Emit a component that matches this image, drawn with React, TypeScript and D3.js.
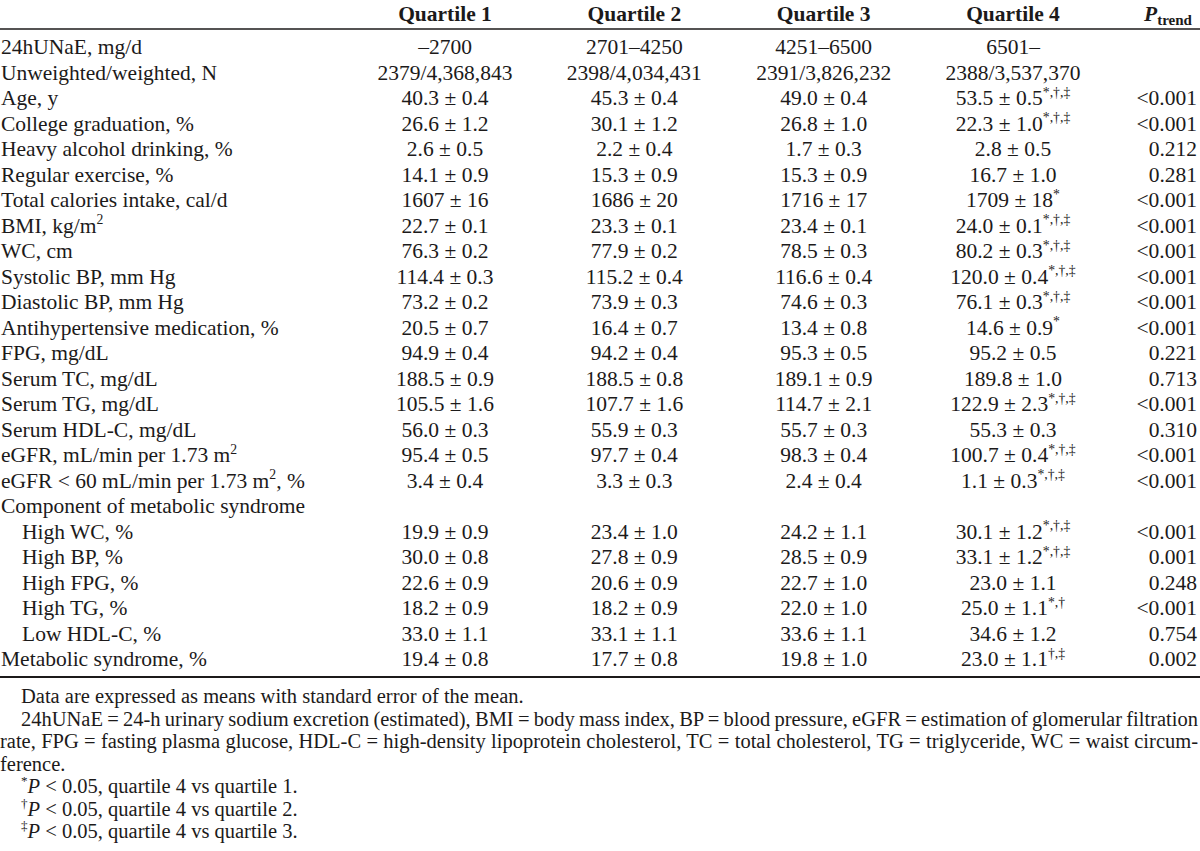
import React, { useEffect, useRef } from "react";
import * as d3 from "d3";

const W = 1200;
const H = 851;
const FONT = "'Liberation Serif', 'Times New Roman', Times, serif";
const INK = "#1c1a1a";

const quartiles = ["Quartile 1", "Quartile 2", "Quartile 3", "Quartile 4"];

const rowLabels = [
  "24hUNaE, mg/d",
  "Unweighted/weighted, N",
  "Age, y",
  "College graduation, %",
  "Heavy alcohol drinking, %",
  "Regular exercise, %",
  "Total calories intake, cal/d",
  "BMI, kg/m^{2}",
  "WC, cm",
  "Systolic BP, mm Hg",
  "Diastolic BP, mm Hg",
  "Antihypertensive medication, %",
  "FPG, mg/dL",
  "Serum TC, mg/dL",
  "Serum TG, mg/dL",
  "Serum HDL-C, mg/dL",
  "eGFR, mL/min per 1.73 m^{2}",
  "eGFR < 60 mL/min per 1.73 m^{2}, %",
  "Component of metabolic syndrome",
  "High WC, %",
  "High BP, %",
  "High FPG, %",
  "High TG, %",
  "Low HDL-C, %",
  "Metabolic syndrome, %",
];

const indented = [19, 20, 21, 22, 23];

const q1 = ["–2700", "2379/4,368,843", "40.3 ± 0.4", "26.6 ± 1.2", "2.6 ± 0.5", "14.1 ± 0.9", "1607 ± 16", "22.7 ± 0.1", "76.3 ± 0.2", "114.4 ± 0.3", "73.2 ± 0.2", "20.5 ± 0.7", "94.9 ± 0.4", "188.5 ± 0.9", "105.5 ± 1.6", "56.0 ± 0.3", "95.4 ± 0.5", "3.4 ± 0.4", "", "19.9 ± 0.9", "30.0 ± 0.8", "22.6 ± 0.9", "18.2 ± 0.9", "33.0 ± 1.1", "19.4 ± 0.8"];
const q2 = ["2701–4250", "2398/4,034,431", "45.3 ± 0.4", "30.1 ± 1.2", "2.2 ± 0.4", "15.3 ± 0.9", "1686 ± 20", "23.3 ± 0.1", "77.9 ± 0.2", "115.2 ± 0.4", "73.9 ± 0.3", "16.4 ± 0.7", "94.2 ± 0.4", "188.5 ± 0.8", "107.7 ± 1.6", "55.9 ± 0.3", "97.7 ± 0.4", "3.3 ± 0.3", "", "23.4 ± 1.0", "27.8 ± 0.9", "20.6 ± 0.9", "18.2 ± 0.9", "33.1 ± 1.1", "17.7 ± 0.8"];
const q3 = ["4251–6500", "2391/3,826,232", "49.0 ± 0.4", "26.8 ± 1.0", "1.7 ± 0.3", "15.3 ± 0.9", "1716 ± 17", "23.4 ± 0.1", "78.5 ± 0.3", "116.6 ± 0.4", "74.6 ± 0.3", "13.4 ± 0.8", "95.3 ± 0.5", "189.1 ± 0.9", "114.7 ± 2.1", "55.7 ± 0.3", "98.3 ± 0.4", "2.4 ± 0.4", "", "24.2 ± 1.1", "28.5 ± 0.9", "22.7 ± 1.0", "22.0 ± 1.0", "33.6 ± 1.1", "19.8 ± 1.0"];
const q4 = ["6501–", "2388/3,537,370", "53.5 ± 0.5", "22.3 ± 1.0", "2.8 ± 0.5", "16.7 ± 1.0", "1709 ± 18", "24.0 ± 0.1", "80.2 ± 0.3", "120.0 ± 0.4", "76.1 ± 0.3", "14.6 ± 0.9", "95.2 ± 0.5", "189.8 ± 1.0", "122.9 ± 2.3", "55.3 ± 0.3", "100.7 ± 0.4", "1.1 ± 0.3", "", "30.1 ± 1.2", "33.1 ± 1.2", "23.0 ± 1.1", "25.0 ± 1.1", "34.6 ± 1.2", "23.0 ± 1.1"];
const q4Sup = ["", "", "*,†,‡", "*,†,‡", "", "", "*", "*,†,‡", "*,†,‡", "*,†,‡", "*,†,‡", "*", "", "", "*,†,‡", "", "*,†,‡", "*,†,‡", "", "*,†,‡", "*,†,‡", "", "*,†", "", "†,‡"];
const pTrend = ["", "", "<0.001", "<0.001", "0.212", "0.281", "<0.001", "<0.001", "<0.001", "<0.001", "<0.001", "<0.001", "0.221", "0.713", "<0.001", "0.310", "<0.001", "<0.001", "", "<0.001", "0.001", "0.248", "<0.001", "0.754", "0.002"];

const footnotes = [
  "Data are expressed as means with standard error of the mean.",
  "24hUNaE = 24-h urinary sodium excretion (estimated), BMI = body mass index, BP = blood pressure, eGFR = estimation of glomerular filtration",
  "rate, FPG = fasting plasma glucose, HDL-C = high-density lipoprotein cholesterol, TC = total cholesterol, TG = triglyceride, WC = waist circum-",
  "ference.",
  "^{*}~{P} < 0.05, quartile 4 vs quartile 1.",
  "^{†}~{P} < 0.05, quartile 4 vs quartile 2.",
  "^{‡}~{P} < 0.05, quartile 4 vs quartile 3.",
];
const footIndent = [true, true, false, false, true, true, true];
const footJustify = [false, true, true, false, false, false, false];

type Seg = { t: string; sup?: boolean; it?: boolean };
function parse(s: string): Seg[] {
  const out: Seg[] = [];
  const re = /(\^\{[^}]*\}|~\{[^}]*\})/g;
  let last = 0;
  let m;
  while ((m = re.exec(s))) {
    if (m.index > last) out.push({ t: s.slice(last, m.index) });
    const inner = m[0].slice(2, -1);
    if (m[0][0] === "^") out.push({ t: inner, sup: true });
    else out.push({ t: inner, it: true });
    last = m.index + m[0].length;
  }
  if (last < s.length) out.push({ t: s.slice(last) });
  return out;
}

function rich(
  g: d3.Selection<SVGGElement, unknown, null, undefined>,
  x: number,
  y: number,
  s: string,
  size: number,
  anchor: string
) {
  const text = g
    .append("text")
    .attr("x", x)
    .attr("y", y)
    .attr("text-anchor", anchor)
    .attr("font-size", size)
    .attr("fill", INK);
  let raised = false;
  parse(s).forEach((seg) => {
    const ts = text.append("tspan").text(seg.t);
    if (seg.sup) {
      ts.attr("font-size", size * 0.64).attr("dy", raised ? 0 : -size * 0.38);
      raised = true;
    } else {
      if (raised) ts.attr("dy", size * 0.38);
      raised = false;
      if (seg.it) ts.attr("font-style", "italic");
    }
  });
  return text;
}

export default function App() {
  const ref = useRef<SVGSVGElement | null>(null);

  useEffect(() => {
    const svg = d3.select(ref.current);
    svg.selectAll("*").remove();
    const g = svg.append("g").attr("font-family", FONT) as any;

    const size = 21.5;
    const x = d3.scalePoint<string>().domain(quartiles).range([445, 1013]);
    const y = d3.scaleLinear().domain([0, rowLabels.length - 1]).range([54, 666]);
    const pRight = 1197;

    // header
    quartiles.forEach((q) => {
      g.append("text")
        .attr("x", x(q))
        .attr("y", 21)
        .attr("text-anchor", "middle")
        .attr("font-size", size)
        .attr("font-weight", "bold")
        .attr("fill", INK)
        .text(q);
    });
    const ph = g
      .append("text")
      .attr("x", 1192)
      .attr("y", 21)
      .attr("text-anchor", "end")
      .attr("font-size", size)
      .attr("font-weight", "bold")
      .attr("fill", INK);
    ph.append("tspan").attr("font-style", "italic").text("P");
    ph.append("tspan").attr("font-size", size * 0.7).attr("dy", 4).text("trend");

    // rules
    g.append("line").attr("x1", 0).attr("x2", W).attr("y1", 29).attr("y2", 29)
      .attr("stroke", INK).attr("stroke-width", 1.4);
    g.append("line").attr("x1", 0).attr("x2", W).attr("y1", 677).attr("y2", 677)
      .attr("stroke", INK).attr("stroke-width", 2.2);

    // rows
    const cols = [q1, q2, q3, q4];
    rowLabels.forEach((lab, i) => {
      const yy = y(i);
      rich(g, indented.includes(i) ? 22 : 1, yy, lab, size, "start");
      cols.forEach((c, j) => {
        const v = c[i];
        if (!v) return;
        const s = j === 3 && q4Sup[i] ? `${v}^{${q4Sup[i]}}` : v;
        rich(g, x(quartiles[j]) as number, yy, s, size, "middle");
      });
      if (pTrend[i]) rich(g, pRight, yy, pTrend[i], size, "end");
    });

    // footnotes
    const fy = d3.scaleLinear().domain([0, footnotes.length - 1]).range([703, 838]);
    const fsize = 20.5;
    footnotes.forEach((f, i) => {
      const x0 = footIndent[i] ? 21 : 0;
      const t = rich(g, x0, fy(i), f, fsize, "start");
      if (footJustify[i]) {
        const node = t.node() as SVGTextElement;
        const len = node.getComputedTextLength();
        const spaces = (f.match(/ /g) || []).length;
        const ws = (1198 - x0 - len) / spaces;
        t.attr("word-spacing", ws);
      }
    });
  }, []);

  return (
    <svg
      ref={ref}
      width={W}
      height={H}
      style={{ position: "absolute", left: 0, top: 0, background: "#fff" }}
    />
  );
}
